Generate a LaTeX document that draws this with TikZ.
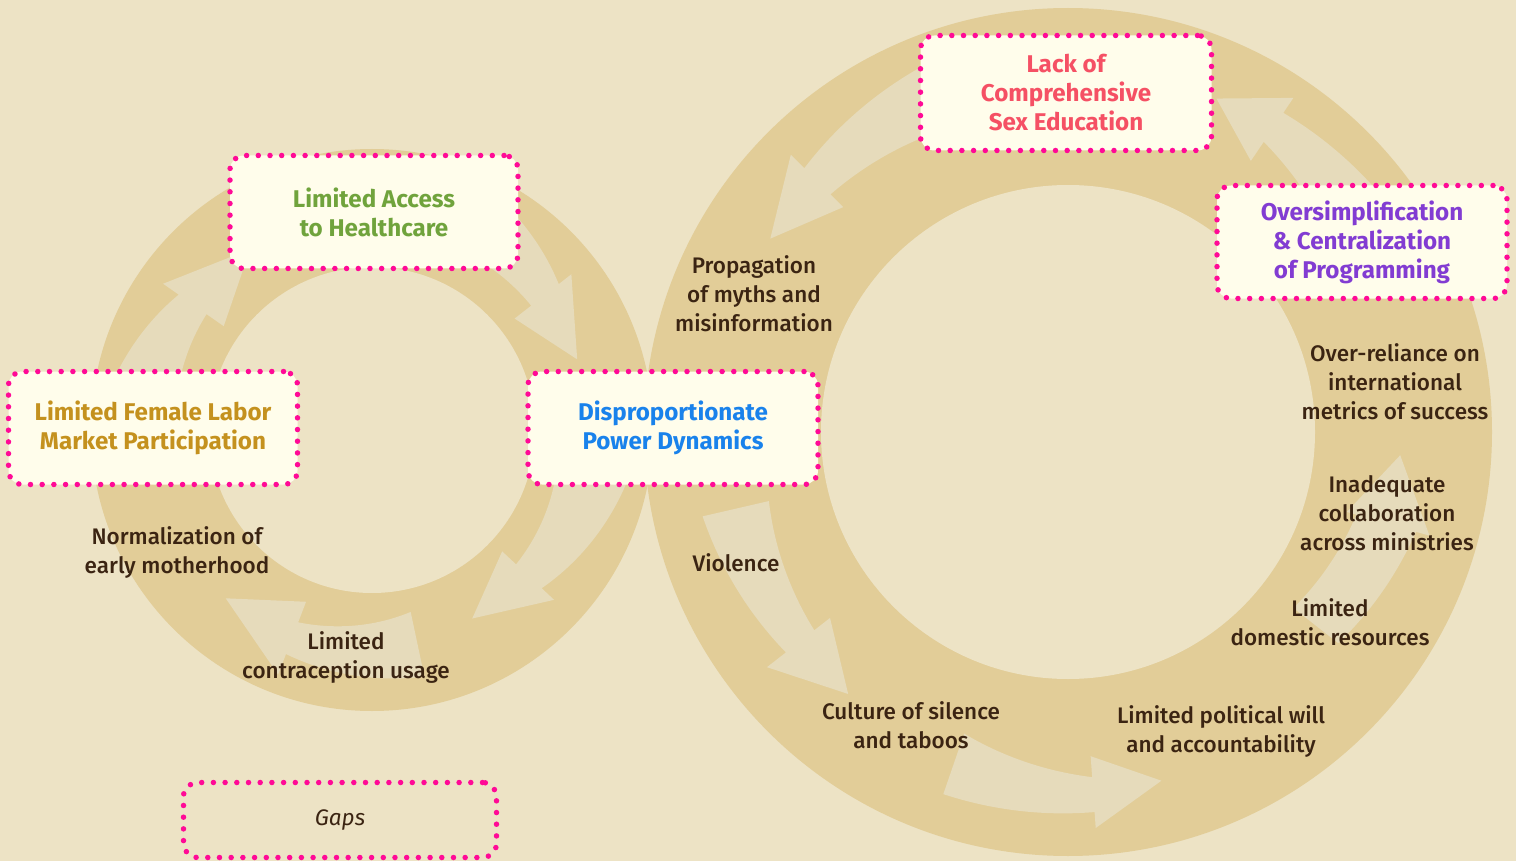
\documentclass[tikz,border=0pt]{standalone}
\usepackage{fontspec}
\setmainfont{Fira Sans}
\newfontfamily\lblfam{Fira Sans Medium}
\definecolor{bgc}{RGB}{237,227,197}
\definecolor{ringc}{RGB}{226,205,152}
\definecolor{arrowc}{RGB}{230,219,187}
\definecolor{boxfill}{RGB}{255,253,235}
\definecolor{dotc}{RGB}{255,10,150}
\definecolor{labc}{RGB}{59,36,18}
\definecolor{redt}{RGB}{245,80,100}
\definecolor{greent}{RGB}{112,163,60}
\definecolor{goldt}{RGB}{196,145,30}
\definecolor{bluet}{RGB}{25,130,235}
\definecolor{purplet}{RGB}{130,60,210}
\newcommand{\titlefont}{\fontsize{24.2}{29}\selectfont\bfseries}
\newcommand{\lblfont}{\lblfam\fontsize{22.5}{29}\selectfont}
\newcommand{\ringarrow}[9]{%
 \fill[arrowc] plot[domain=#1:#2, samples=40] ({\cx+(#4+(#5-#4)*(\x-#1)/(#2-#1))*cos(\x)}, {\cy+(#4+(#5-#4)*(\x-#1)/(#2-#1))*sin(\x)})
 -- ({\cx+#8*cos(#2)}, {\cy+#8*sin(#2)})
 -- ({\cx+(#8+#9)/2*cos(#3)}, {\cy+(#8+#9)/2*sin(#3)})
 -- ({\cx+#9*cos(#2)}, {\cy+#9*sin(#2)})
 -- plot[domain=#2:#1, samples=40] ({\cx+(#6+(#7-#6)*(\x-#1)/(#2-#1))*cos(\x)}, {\cy+(#6+(#7-#6)*(\x-#1)/(#2-#1))*sin(\x)})
 -- cycle;}
\tikzset{
 gapbox/.style={draw=dotc, line width=5.5pt, dash pattern=on 0pt off 11.7pt, line cap=round,
   rounded corners=14pt, minimum width=290pt, minimum height=114pt, align=center, inner sep=0pt},
 titlebox/.style={gapbox, fill=boxfill, font=\titlefont},
 lbl/.style={align=center, font=\lblfont, text=labc, inner sep=0pt}
}
\begin{document}
\begin{tikzpicture}[x=1pt, y=-1pt]
\useasboundingbox (0,0) rectangle (1516,861);
\fill[bgc] (0,0) rectangle (1516,861);
% rings
\fill[ringc] (372,430) circle[radius=281];
\fill[ringc] (1068,432) circle[radius=424];
\fill[bgc] (372,430) circle[radius=163];
\fill[bgc] (1068,432) circle[radius=247];
% left ring arrows (clockwise)
\def\cx{372}\def\cy{430}
\ringarrow{185}{215}{236}{197}{202}{270}{236}{181}{255}
\ringarrow{292}{322}{341}{200}{202}{272}{237}{181}{253}
\ringarrow{5}{43}{62}{187}{197}{266}{232}{178}{249}
\ringarrow{78}{111}{131}{186}{206}{252}{240}{184}{262}
% right ring arrows (counter-clockwise)
\def\cx{1068}\def\cy{432}
\ringarrow{252}{225}{213}{325}{336}{397}{373}{318}{392}
\ringarrow{322}{304}{294}{328}{350}{392}{385}{327}{403}
\ringarrow{167}{142}{130}{307}{322}{375}{358}{302}{382}
\ringarrow{109}{86}{75}{319}{346}{383}{381}{325}{397}
\ringarrow{38}{16}{4}{286}{300}{343}{362}{290}{376}
% boxes
\node[titlebox, minimum width=291pt, minimum height=115pt, text=redt] (lack) at (1066,93) {Lack of\\Comprehensive\\Sex Education};
\node[titlebox, minimum width=288pt, minimum height=113pt, text=greent] (access) at (374,212) {Limited Access\\to Healthcare};
\node[titlebox, minimum width=289pt, minimum height=113pt, text=goldt] (labor) at (153,428) {Limited Female Labor\\Market Participation};
\node[titlebox, minimum width=290pt, minimum height=113pt, text=bluet] (power) at (673,428) {Disproportionate\\Power Dynamics};
\node[titlebox, minimum width=290pt, minimum height=113pt, text=purplet] (over) at (1362,242) {Oversimplification\\\&~Centralization\\of Programming};
\node[gapbox, minimum width=313pt, minimum height=75pt, text=labc, font=\fontsize{22.5}{29}\selectfont\itshape] (gaps) at (340,820) {Gaps};
% labels
\node[lbl] (myths) at (754,294) {Propagation\\of myths and\\misinformation};
\node[lbl] (metrics) at (1395,382) {Over-reliance on\\international\\metrics of success};
\node[lbl] (collab) at (1387,513) {Inadequate\\collaboration\\across ministries};
\node[lbl] (domres) at (1330,622) {Limited\\domestic resources};
\node[lbl] (polwill) at (1221,731) {Limited political will\\and accountability};
\node[lbl] (silence) at (911,725) {Culture of silence\\and taboos};
\node[lbl] (violence) at (736,563) {Violence};
\node[lbl] (norm) at (177,552) {Normalization of\\early motherhood};
\node[lbl] (contra) at (346,657) {Limited\\contraception usage};
\end{tikzpicture}
\end{document}
